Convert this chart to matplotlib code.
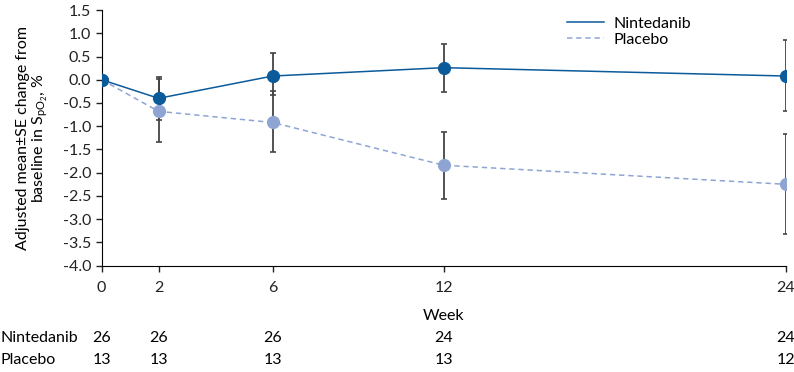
import numpy as np
import matplotlib.pyplot as plt

plt.rcParams['font.family'] = ['Lato', 'DejaVu Sans']
plt.rcParams['mathtext.fontset'] = 'custom'
plt.rcParams['mathtext.rm'] = 'Lato'
plt.rcParams['mathtext.it'] = 'Lato'

# data
weeks = [0, 2, 6, 12, 24]
nin_mean = [0.0, -0.40, 0.08, 0.26, 0.08]
nin_lo = [0.0, -0.87, -0.33, -0.27, -0.68]
nin_hi = [0.0, 0.06, 0.58, 0.77, 0.85]
pla_mean = [0.0, -0.68, -0.92, -1.84, -2.25]
pla_lo = [0.0, -1.33, -1.56, -2.56, -3.33]
pla_hi = [0.0, 0.02, -0.25, -1.12, -1.17]
n_nin = [26, 26, 26, 24, 24]
n_pla = [13, 13, 13, 13, 12]

c_nin = '#0b5a9a'
c_pla = '#8ea5d3'
c_err = '#444444'

fig = plt.figure(figsize=(7.94, 3.72), dpi=100)
ax = fig.add_axes([0.128, 0.286, 0.8615, 0.687])

def draw(mean, lo, hi, color, ls, label):
    mean = np.array(mean)
    yerr = np.vstack([mean - np.array(lo), np.array(hi) - mean])
    ax.errorbar(weeks[1:], mean[1:], yerr=yerr[:, 1:], fmt='none',
                ecolor=c_err, elinewidth=1.3, capsize=2.5, capthick=1.2, zorder=2)
    ax.plot(weeks, mean, ls=ls, color=color, lw=1.1, zorder=3, label=label,
            dashes=(3.5, 2.5) if ls == '--' else (None, None))
    ax.plot(weeks, mean, 'o', color=color, ms=8.5, zorder=4)

draw(pla_mean, pla_lo, pla_hi, c_pla, '--', 'Placebo')
draw(nin_mean, nin_lo, nin_hi, c_nin, '-', 'Nintedanib')

ax.set_xlim(0, 24)
ax.set_ylim(-4.0, 1.5)
ax.set_xticks(weeks)
ax.set_yticks(np.arange(-4.0, 1.51, 0.5))
ax.yaxis.set_major_formatter(plt.FormatStrFormatter('%.1f'))
ax.spines['top'].set_visible(False)
ax.spines['right'].set_visible(False)
ax.tick_params(labelsize=11.5, length=4, width=1, colors='#222222')
ax.tick_params(axis='x', pad=7)
ax.set_xlabel('Week', fontsize=11.5, labelpad=10)
ax.set_ylabel('Adjusted mean±SE change from\nbaseline in S$_{\\mathrm{pO_2}}$, %',
              fontsize=11.5, labelpad=9, linespacing=1.1)

h, l = ax.get_legend_handles_labels()
ax.legend(h[::-1], l[::-1], loc='upper left', bbox_to_anchor=(0.66, 1.03),
          frameon=False, fontsize=11.5, handlelength=2.3, handletextpad=0.6,
          labelspacing=0.1)

# numbers at risk below the axis
for row, (name, counts) in enumerate([('Nintedanib', n_nin), ('Placebo', n_pla)]):
    y = 338 + row * 22
    fig.text(0.0, 1 - y / 372, name, fontsize=11.5, va='center', ha='left')
    for w, c in zip(weeks, counts):
        xf = ax.transData.transform((w, 0))[0] / fig.bbox.width
        fig.text(xf, 1 - y / 372, str(c), fontsize=11.5, va='center', ha='center')

fig.savefig('out.png', dpi=100)
